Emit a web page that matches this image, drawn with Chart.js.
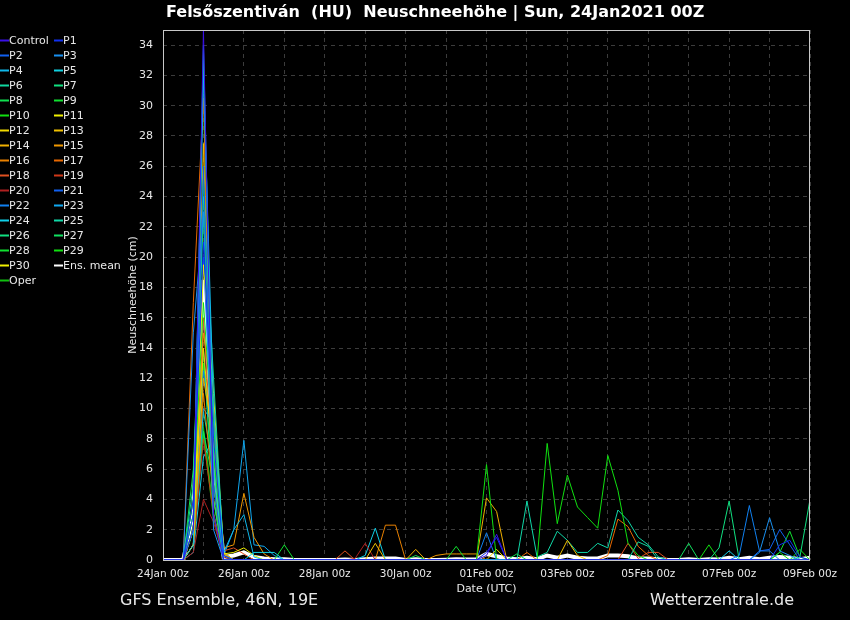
<!DOCTYPE html>
<html>
<head>
<meta charset="utf-8">
<script src="https://cdn.jsdelivr.net/npm/chart.js@4.4.1/dist/chart.umd.min.js"></script>
<style>
  html, body { margin: 0; background: #000; }
  canvas { display: block; }
</style>
</head>
<body>
<canvas id="chart" width="850" height="620"></canvas>
<script>
// 6-hourly steps, 24Jan 00z .. 09Feb 00z (65 values per member)
const dateLabels = ['24Jan 00z','26Jan 00z','28Jan 00z','30Jan 00z','01Feb 00z','03Feb 00z','05Feb 00z','07Feb 00z','09Feb 00z'];
const yTicks = [0,2,4,6,8,10,12,14,16,18,20,22,24,26,28,30,32,34];
const names = ['Control','P1','P2','P3','P4','P5','P6','P7','P8','P9','P10','P11','P12','P13','P14','P15',
  'P16','P17','P18','P19','P20','P21','P22','P23','P24','P25','P26','P27','P28','P29','P30','Ens. mean','Oper'];

const control = [0,0,0,2,35,3,0,0, 0,0,0,0,0,0,0,0, 0,0,0,0,0,0,0,0, 0,0,0,0,0,0,0,0, 0.3,1.7,0,0,0,0,0,0, 0,0,0,0,0,0,0,0, 0,0,0,0,0,0,0,0, 0,0,0,0,0,0,0,0, 0];
const p1  = [0,0,0,4,21,8,0.3,0, 0,0,0,0,0,0,0,0, 0,0,0,0,0,0,0,0, 0,0,0,0,0,0,0,0, 0.5,1.5,0,0,0,0,0,0, 0,0,0,0,0,0,0,0, 0,0,0,0,0,0,0,0, 0,0,0,0,0,1.0,1.3,0.2, 0];
const p2  = [0,0,0,3,26,5,0,0, 0,0,0,0,0,0,0,0, 0,0,0,0,0,0,0,0, 0,0,0,0,0,0,0,0, 0,0,0,0,0,0,0,0, 0,0,0,0,0,0,0,0, 0,0,0,0,0,0,0,0, 0,0,0,0,0,0,0,0, 0];
const p3  = [0,0,0,15,23,2,0,0, 0,0,0,0,0,0,0,0, 0,0,0,0,0,0,0,0, 0,0,0,0,0,0,0,0, 0,0,0,0,0,0,0,0, 0,0,0,0,0,0,0,0, 0,0,0,0,0,0,0,0, 0,0,0,0.5,2.8,0.6,0.3,0, 0];
const p4  = [0,0,0,1,32,10,0.5,2.0, 3.0,0.2,0,0,0,0,0,0, 0,0,0,0,0,0,0,0, 0,0,0,0,0,0,0,0, 0,0,0,0,0,0,0,0, 0,0,0,0,0,0,0,0, 0,0,0,0,0,0,0,0, 0,0,0,0,0,0,0,0, 0];
const p5  = [0,0,0,2,34,6,0,0, 0,0.5,0.5,0.5,0,0,0,0, 0,0,0,0,0,0,0,0, 0,0,0,0,0,0,0,0, 0,0,0,0,0,0,0,0, 0,0,0,0,0,0,0,0, 0,0,0,0,0,0,0,0, 0,0,0,0,0,0,0,0, 0];
const p6  = [0,0,0,5,24,12,0.3,0, 0,0,0,0,0,0,0,0, 0,0,0,0,0,0,0,0, 0,0,0,0,0,0,0,0, 0,0,0,0,0,0,0,0, 0,0,0,0,0,0,0,1.2, 0.9,0,0,0,0,0,0,0, 0,0,0,0,0,0,0,0, 0];
const p7  = [0,0,0,3,33,4,0,0, 0,0,0,0,0,0,0,0, 0,0,0,0,0,0,0,0, 0,0,0,0,0,0,0,0, 0,0,0,0,0,0,0,0, 0,0,0,0,0,0,0,0, 0,0,0,0,0,0,0,0, 0,0,0,0,0,0,0,0.2, 4.0];
const p8  = [0,0,0,6,22.7,9,0,0, 0,0,0,0,0,0,0,0, 0,0,0,0,0,0,0,0, 0,0.3,0,0,0,0,0,0, 0,0,0,0.4,0,0,0,0, 0,0,0,0,0,0,0,0, 0,0,0,0,0,0,0,0, 0,0,0,0,0,0,0,0, 0];
const p9  = [0,0,0,2,25,5,0,0, 0,0,0,0,1.0,0,0,0, 0,0,0,0,0,0,0,0, 0,0,0,0,0,0.9,0,0, 0,0,0,0,0,0,0,0, 0,0,0,0,0,0,0,0, 0,0,0,0,0,0,0,0, 0,0,0,0,0,0,0,0, 0];
const p10 = [0,0,0,4,17,7,0,0, 0,0,0,0,0,0,0,0, 0,0,0,0,0,0,0,0, 0,0,0,0,0,0,0,0, 6.3,0,0,0,0,0,7.7,2.4, 5.6,3.5,2.8,2.1,6.9,4.6,1.1,0.3, 0,0,0,0,0,0,0,0, 0,0,0,0,0,0,0,0, 0];
const p11 = [0,0,0,1,19.5,11,0.4,0.5, 0.8,0.3,0,0,0,0,0,0, 0,0,0,0,0,0,0,0, 0,0,0,0,0,0,0,0, 0,0,0,0,0,0,0,0, 0,0,0,0,0,0,0,0, 0,0,0,0,0,0,0,0, 0,0,0,0,0,0,0,0, 0];
const p12 = [0,0,0,2,14,6,0,0, 0,0,0,0,0,0,0,0, 0,0,0,0,0,0,0,0, 0,0,0,0,0,0,0,0, 0,0.7,0,0,0,0,0,0, 0,0,0,0,0,0,0,0, 0,0,0,0,0,0,0,0, 0,0,0,0,0,0,0,0, 0];
const p13 = [0,0,0,3,27.5,5,0,0, 0,0,0,0,0,0,0,0, 0,0,0,0,0,1.1,0,0, 0,0,0,0,0,0,0,0, 0,0,0,0,0,0,0,0, 1.3,0.3,0,0,0,0,0,0, 0,0,0,0,0,0,0,0, 0,0,0,0,0,0,0,0, 0];
const p14 = [0,0,0,1,12,8,0.5,0, 0,0,0,0,0,0,0,0, 0,0,0,0,0,0,0,0, 0,0.7,0,0,0,0,0,0, 4.1,3.2,0,0,0,0,0,0, 0,0,0,0,0,0,0,0, 0,0,0,0,0,0,0,0, 0,0,0,0,0,0,0,0, 0];
const p15 = [0,0,0,2,15,10,0.8,1.0, 4.4,1.5,0.4,0,0,0,0,0, 0,0,0,0,0,0,0,0, 0,0,0,0.3,0.4,0.4,0.4,0.4, 0,0,0,0,0,0,0,0, 0,0,0,0,0,0,0,0, 0,0,0,0,0,0,0,0, 0,0,0,0,0,0,0,0, 0];
const p16 = [0,0,0,1,11,4,0.4,0, 0,0,0,0,0,0,0,0, 0,0,0,0,0,0,2.3,2.3, 0,0,0,0,0,0,0,0, 0,0,0,0,0,0,0,0, 0,0,0,0,0,0,0,0, 0,0,0,0,0,0,0,0, 0,0,0,0,0,0,0,0, 0];
const p17 = [0,0,0,17,30.5,3,0,0, 0,0,0,0,0,0,0,0, 0,0,0,0,0,0,0,0, 0,0,0,0,0,0,0,0, 0,0,0,0,0.5,0,0,0, 0,0,0,0,0.3,2.7,2.2,0.9, 0.3,0,0,0,0,0,0,0, 0,0,0,0,0,0,0,0, 0];
const p18 = [0,0,0,2,16,5,0.6,0.8, 0.4,0,0,0,0,0,0,0, 0,0,0.6,0,0,0,0,0, 0,0,0,0,0,0,0,0, 0,0,0,0,0,0,0,0, 0,0,0,0,0,0,1.1,0.1, 0.5,0.5,0,0,0,0,0,0, 0,0,0,0,0,0,0,0, 0];
const p19 = [0,0,0,1,8,3,0.3,0, 0,0,0,0,0,0,0,0, 0,0,0,0,0,0,0,0, 0,0,0,0,0,0,0,0, 0,0,0,0,0,0,0,0, 0,0,0,0,0,0,0,0, 0,0,0,0,0,0,0,0, 0,0,0,0,0,0,0,0, 0];
const p20 = [0,0,0,0.5,4,2.5,0.2,0, 0,0,0,0,0,0,0,0, 0,0,0,0.1,1.1,0,0,0, 0,0,0,0,0,0,0,0, 0,0,0,0,0,0,0,0, 0,0,0,0,0,0,0,0, 0,0,0,0,0,0,0,0, 0,0,0,0,0,0,0,0, 0];
const p21 = [0,0,0,3,20,6,0,0, 0,0,0,0,0,0,0,0, 0,0,0,0,0,0,0,0, 0,0,0,0,0,0,0,0, 0,0,0,0,0,0,0,0, 0,0,0,0,0,0,0,0, 0,0,0,0,0,0,0,0, 0,0,0,0.6,0.7,2.0,1.0,0, 0];
const p22 = [0,0,0,2,12.5,7,0,0, 0,0,0,0,0,0,0,0, 0,0,0,0,0,0,0,0, 0,0,0,0,0,0,0,0, 1.8,0,0,0,0,0,0,0, 0,0,0,0,0,0,0,0, 0,0,0,0,0,0,0,0, 0,0.3,3.6,0.6,0.6,0,0,0, 0];
const p23 = [0,0,0,1,10,9,0.3,2.0, 7.9,1.0,0.9,0.3,0,0,0,0, 0,0,0,0,0,0,0,0, 0,0,0,0,0,0,0,0, 0,0,0,0,0,0,0,0, 0,0,0,0,0,0,0,0, 0,0,0,0,0,0,0,0, 0,0,0,0,0,0,0,0, 0];
const p24 = [0,0,0,0.5,6.8,8,0.5,0, 0,0,0,0,0,0,0,0, 0,0,0,0,0.3,2.1,0,0, 0,0,0,0,0,0,0,0, 0,0,0,0,0,0,0,0, 0,0,0,0,0,0,0,0, 0,0,0,0,0,0,0,0, 0.6,0,0,0,0,0,0,0, 0];
const p25 = [0,0,0,1,9.8,6,0,0, 0,0,0,0,0,0,0,0, 0,0,0,0,0,0,0,0, 0,0,0,0,0,0,0,0, 0,0,0,0,3.9,0.2,0.5,1.9, 1.3,0.5,0.5,1.1,0.8,3.3,2.6,1.5, 1.0,0.2,0,0,0,0,0,0, 0,0,0,0,0,0,0,0, 0];
const p26 = [0,0,0,2,14,3,0,0, 0,0,0,0,0,0,0,0, 0,0,0,0,0,0,0,0, 0,0,0,0,0,0,0,0, 0,0,0,0,0,0,0,0, 0,0,0,0,0,0,0,0, 0,0,0,0,0,0,0,0.8, 3.9,0,0,0,0,0,0,0, 0];
const p27 = [0,0,0,1,8.5,5,0,0, 0,0,0,0,0,0,0,0, 0,0,0,0,0,0,0,0, 0,0,0,0,0,0,0,0, 0,0,0,0,0,0,0,0, 0,0,0,0,0,0,0,0, 0,0,0,0,1.1,0,0,0, 0,0,0,0,0,0,0,0, 0];
const p28 = [0,0,0,4,26,4,0,0, 0,0,0,0,0,0,0,0, 0,0,0,0,0,0,0,0, 0,0,0,0,0,0,0,0, 0,0,0,0,0,0,0,0, 0,0,0,0,0,0,0,0, 0,0,0,0,0,0,0,0, 0,0,0,0,0,0.5,1.9,0.2, 0];
const p29 = [0,0,0,2,13,5,0,0, 0,0,0,0,0,0,0,0, 0,0,0,0,0,0,0,0, 0,0,0,0,0,0,0,0, 0,0,0,0,0,0,0,0, 0,0,0,0,0,0,0,0, 0,0,0,0,0,0,1.0,0, 0,0,0,0,0,0.5,0,0.7, 0];
const p30 = [0,0,0,1,13,7,0,0, 0,0,0,0,0,0,0,0, 0,0,0,0,0,0,0,0, 0,0,0,0,0,0,0,0, 0,0,0,0,0,0,0,0, 0,0,0,0,0,0,0,0, 0,0,0,0,0,0,0,0, 0,0,0,0,0,0,0,0, 0];
const ensMean = [0,0,0,3.1,18.5,6.1,0.2,0.3, 0.5,0.2,0.1,0.05,0.05,0,0,0, 0,0,0.03,0,0.05,0.1,0.1,0.1, 0,0.05,0,0,0.02,0.05,0.03,0.05,
  0.4,0.25,0.1,0.05,0.15,0.05,0.3,0.15, 0.3,0.15,0.1,0.1,0.3,0.3,0.25,0.1, 0.1,0.05,0,0,0.05,0,0.05,0.03, 0.15,0.05,0.15,0.05,0.15,0.2,0.15,0.05, 0.15];
const oper = [0,0,0,2,8.5,3,0,0, 0,0,0,0,0,0,0,0, 0,0,0,0,0,0,0,0, 0,0,0,0,0,0,0,0, 0,0,0,0,0,0,0,0, 0,0,0,0,0,0,0,0, 0,0,0,0,0,0,0,0, 0,0,0,0,0,0,0,0, 0];

const series = [control,p1,p2,p3,p4,p5,p6,p7,p8,p9,p10,p11,p12,p13,p14,p15,
  p16,p17,p18,p19,p20,p21,p22,p23,p24,p25,p26,p27,p28,p29,p30,ensMean,oper];

// line colours, same order as names
const colors = ['#3a10e8','#1030f0','#1060f0','#1890f0','#10b8ea','#10d0e0','#10d8a0','#10e080','#10e050','#10e030','#10e010',
  '#f0f000','#f0d800','#f0c000','#f0b000','#f09800','#e88000','#e86800','#e05020','#d03818','#b02020',
  '#1060f0','#1080f0','#10a8f0','#10d0e8','#10d8a8','#10e080','#10e060','#10e030','#10e010','#f0f000','#ffffff','#10c010'];

const textCol = '#e8e8e8';
const FONT = '"DejaVu Sans", sans-serif';

const datasets = series.map((vals, k) => ({
  label: names[k],
  data: vals.map((v, i) => ({ x: i, y: v })),
  borderColor: colors[k],
  borderWidth: names[k] === 'Ens. mean' ? 4 : (names[k] === 'Oper' ? 2 : 1),
  pointRadius: 0,
  tension: 0,
  fill: false
}));

// background, frame, titles and the two-column legend
const decor = {
  id: 'decor',
  beforeDraw(chart) {
    const c = chart.ctx;
    c.save();
    c.fillStyle = '#000';
    c.fillRect(0, 0, chart.width, chart.height);
    c.restore();
  },
  afterDraw(chart) {
    const c = chart.ctx, a = chart.chartArea;
    c.save();
    c.strokeStyle = '#c8c8c8';
    c.lineWidth = 1;
    c.strokeRect(a.left + 0.5, a.top + 0.5, a.right - a.left - 1, a.bottom - a.top);

    c.fillStyle = '#fff';
    c.font = 'bold 16px ' + FONT;
    c.textBaseline = 'alphabetic';
    c.textAlign = 'left';
    c.fillText('Felsőszentiván  (HU)  Neuschneehöhe | Sun, 24Jan2021 00Z', 166, 17);

    c.fillStyle = textCol;
    c.font = '16px ' + FONT;
    c.fillText('GFS Ensemble, 46N, 19E', 120, 605);
    c.textAlign = 'right';
    c.fillText('Wetterzentrale.de', 794, 605);

    c.font = '11px ' + FONT;
    c.textAlign = 'center';
    c.textBaseline = 'middle';
    c.fillText('Date (UTC)', (a.left + a.right) / 2, 589);
    c.save();
    c.translate(133, (a.top + a.bottom) / 2);
    c.rotate(-Math.PI / 2);
    c.fillText('Neuschneehöhe (cm)', 0, 0);
    c.restore();

    // legend
    c.textAlign = 'left';
    c.font = '11px ' + FONT;
    names.forEach((n, k) => {
      const x = (k % 2) ? 54 : 0;
      const y = 40 + Math.floor(k / 2) * 15;
      c.strokeStyle = colors[k];
      c.lineWidth = 2;
      c.beginPath();
      c.moveTo(x, y + 0.5);
      c.lineTo(x + 9, y + 0.5);
      c.stroke();
      c.fillStyle = textCol;
      c.fillText(n, x + 9, y + 1);
    });
    c.restore();
  }
};

new Chart(document.getElementById('chart'), {
  type: 'line',
  data: { datasets },
  plugins: [decor],
  options: {
    responsive: false,
    animation: false,
    events: [],
    layout: { padding: { left: 0, top: 30, right: 40, bottom: 0 } },
    plugins: { legend: { display: false }, title: { display: false }, tooltip: { enabled: false } },
    scales: {
      x: {
        type: 'linear', min: 0, max: 64,
        afterFit: s => { s.height = 60; },
        afterBuildTicks: s => { s.ticks = []; for (let v = 0; v <= 64; v += 4) s.ticks.push({ value: v }); },
        ticks: {
          color: textCol, font: { family: FONT, size: 10.5 }, padding: 8, maxRotation: 0, autoSkip: false,
          callback: v => (v % 8 === 0 ? dateLabels[v / 8] : '')
        },
        grid: { color: '#3c3c3c', lineWidth: 1, drawTicks: false },
        border: { display: false, dash: [4, 4] }
      },
      y: {
        min: 0, max: 35,
        afterFit: s => { s.width = 163; },
        afterBuildTicks: s => { s.ticks = yTicks.map(v => ({ value: v })); },
        ticks: { color: textCol, font: { family: FONT, size: 11 }, padding: 10 },
        grid: { color: '#3c3c3c', lineWidth: 1, drawTicks: false },
        border: { display: false, dash: [4, 4] }
      }
    }
  }
});
</script>
</body>
</html>
